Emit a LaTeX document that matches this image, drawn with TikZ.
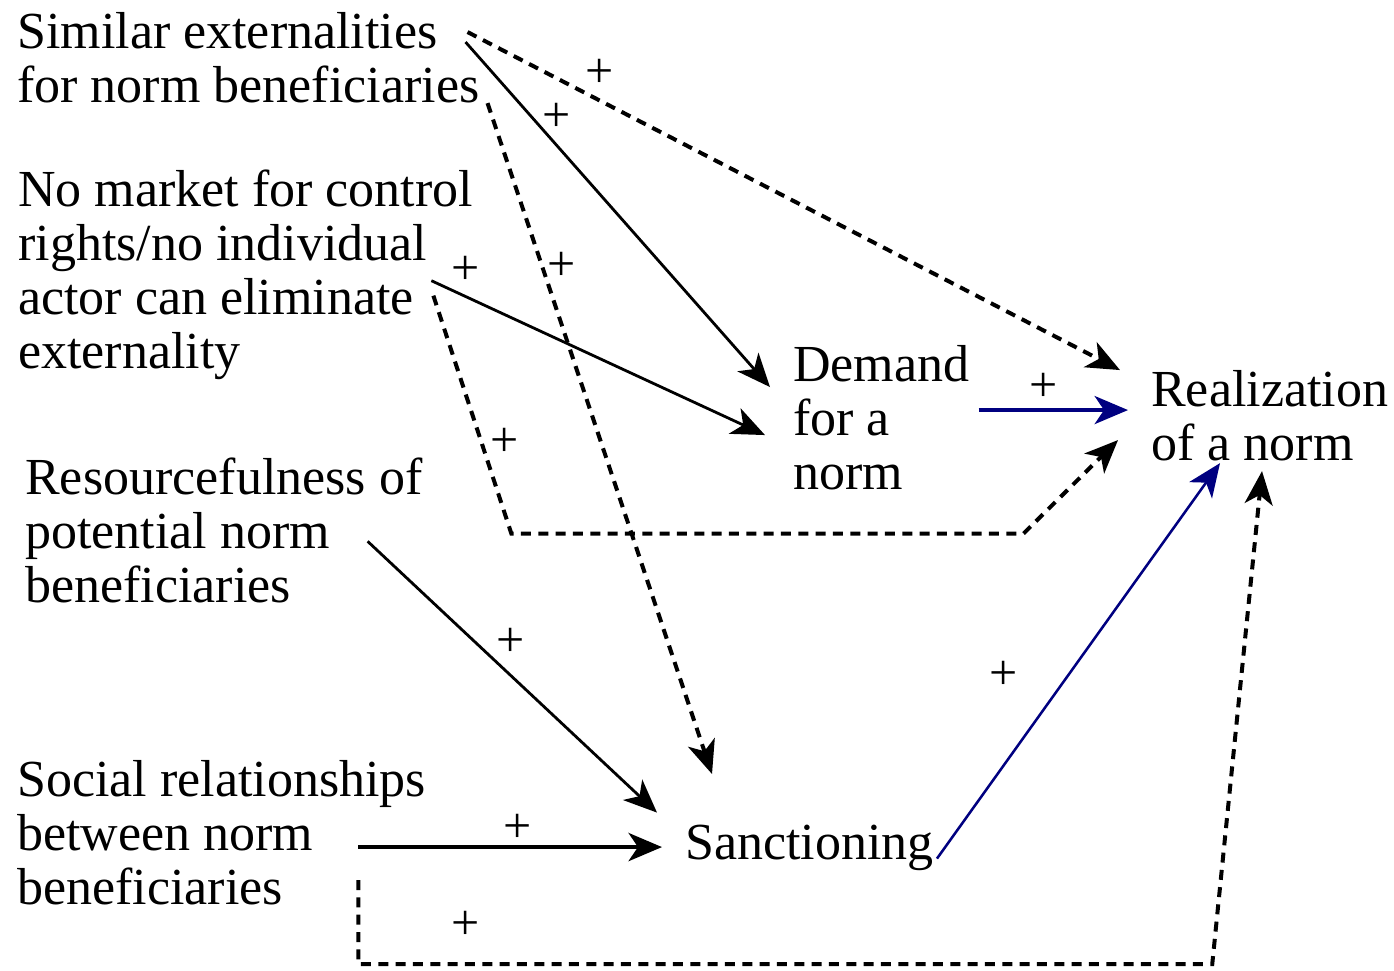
\documentclass[tikz,border=0pt]{standalone}
\usepackage{fontspec}
\setmainfont{Liberation Serif}
\usepackage{xcolor}
\usepackage{tikz}
\usetikzlibrary{arrows.meta,calc}
\definecolor{navyln}{RGB}{0,0,128}

\begin{document}
\begin{tikzpicture}[x=0.75pt,y=-0.75pt,>={Stealth[length=25pt,width=21pt,inset=7pt]},
  txt/.style={anchor=north west,align=left,inner sep=0pt,font=\fontsize{39}{40.5}\selectfont},
  pl/.style={inner sep=0pt,font=\fontsize{37.5}{40.5}\selectfont},
  sol/.style={->,line width=2.1pt},
  dsh/.style={->,line width=3pt,dash pattern=on 7.5pt off 5.5pt},
  blu/.style={->,color=navyln}]
  \useasboundingbox (0,0) rectangle (1394,970);

  % factors
  \node[txt] (sim)   at (17,12)  {Similar externalities\\for norm beneficiaries};
  \node[txt] (nomkt) at (18,170) {No market for control\\rights/no individual\\actor can eliminate\\externality};
  \node[txt] (res)   at (25,458) {Resourcefulness of\\potential norm\\beneficiaries};
  \node[txt] (soc)   at (17,760) {Social relationships\\between norm\\beneficiaries};
  % mechanisms and outcome
  \node[txt] (dem)   at (793,345) {Demand\\for a\\norm};
  \node[txt] (sanc)  at (685,825) {Sanctioning};
  \node[txt] (real)  at (1151,370) {Realization\\of a norm};

  % solid links
  \draw[sol] ($(sim.east)+(-14,-15.5)$) -- ($(dem.west)+(-23,-30.5)$);
  \draw[sol] ($(nomkt.east)+(-42,5.5)$) -- ($(dem.west)+(-28,17.5)$);
  \draw[sol] ($(res.east)+(-55,10.5)$) -- ($(sanc.west)+(-28,-35.5)$);
  \draw[sol,line width=3.6pt] ($(soc.east)+(-68,14.5)$) coordinate (s8) -- ($(s8 -| sanc.west)+(-23,0)$);
  \draw[blu,line width=3pt] ($(dem.east)+(9,-7.5)$) coordinate (s6) -- ($(s6 -| real.west)+(-23,0)$);
  \draw[blu,line width=1.9pt] ($(sanc.east)+(3,10.5)$) -- ($(real.south west)+(69,2)$);

  % dashed links
  \draw[dsh] ($(sim.east)+(-12,-25.5)$) -- ($(real.west)+(-31,-45.5)$);
  \draw[dsh] ($(sim.south east)+(8,0)$) -- ($(sanc.north west)+(27,-51)$);
  \draw[dsh] ($(nomkt.east)+(-40,20.5)$) -- ++(78,238) -- ++(512,0) -- ($(real.west)+(-33,24.5)$);
  \draw[dsh] ($(soc.east)+(-68,47.5)$) -- ++(0,84) -- ++(854,0) -- ($(real.south west)+(111,10)$);

  % signs
  \foreach \x/\y [count=\i] in {600/73,557/117,562/266,466/270,505/442,1044/387,511/642,518/828,1004/675,466/925}
    \node[pl] (p\i) at (\x,\y) {+};
\end{tikzpicture}
\end{document}
